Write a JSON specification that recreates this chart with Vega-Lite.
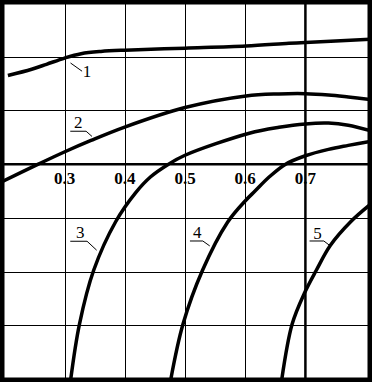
{
  "$schema": "https://vega.github.io/schema/vega-lite/v6.json",
  "width": 372,
  "height": 382,
  "padding": 0,
  "autosize": {"type": "fit", "contains": "padding"},
  "background": "white",
  "config": {
    "view": {"stroke": "black", "strokeWidth": 5},
    "axis": {"grid": true, "gridColor": "black", "gridOpacity": 1, "gridWidth": 1, "labels": false, "ticks": false, "domain": false, "title": null}
  },
  "datasets": {
    "curves": [
      {"c": 1, "x": 0.2058, "y": 1.650}, {"c": 1, "x": 0.2453, "y": 1.768}, {"c": 1, "x": 0.2699, "y": 1.860},
      {"c": 1, "x": 0.3, "y": 1.976}, {"c": 1, "x": 0.3274, "y": 2.057}, {"c": 1, "x": 0.3603, "y": 2.099},
      {"c": 1, "x": 0.4, "y": 2.123}, {"c": 1, "x": 0.5, "y": 2.160}, {"c": 1, "x": 0.6014, "y": 2.200},
      {"c": 1, "x": 0.6726, "y": 2.250}, {"c": 1, "x": 0.7, "y": 2.265}, {"c": 1, "x": 0.8073, "y": 2.326},
      {"c": 2, "x": 0.196, "y": -0.326}, {"c": 2, "x": 0.2563, "y": 0.0}, {"c": 2, "x": 0.2995, "y": 0.2265},
      {"c": 2, "x": 0.3439, "y": 0.442}, {"c": 2, "x": 0.3998, "y": 0.691}, {"c": 2, "x": 0.5, "y": 1.055},
      {"c": 2, "x": 0.6014, "y": 1.271}, {"c": 2, "x": 0.6561, "y": 1.308}, {"c": 2, "x": 0.7, "y": 1.313},
      {"c": 2, "x": 0.7383, "y": 1.289}, {"c": 2, "x": 0.7712, "y": 1.252}, {"c": 2, "x": 0.8073, "y": 1.206},
      {"c": 3, "x": 0.3100, "y": -4.02}, {"c": 3, "x": 0.3247, "y": -2.978}, {"c": 3, "x": 0.3483, "y": -1.976},
      {"c": 3, "x": 0.3850, "y": -1.068}, {"c": 3, "x": 0.4178, "y": -0.534},
      {"c": 3, "x": 0.4425, "y": -0.239}, {"c": 3, "x": 0.4726, "y": 0.0}, {"c": 3, "x": 0.5, "y": 0.166},
      {"c": 3, "x": 0.6068, "y": 0.576}, {"c": 3, "x": 0.6561, "y": 0.687}, {"c": 3, "x": 0.7, "y": 0.750},
      {"c": 3, "x": 0.7383, "y": 0.765}, {"c": 3, "x": 0.7712, "y": 0.725}, {"c": 3, "x": 0.8073, "y": 0.626},
      {"c": 4, "x": 0.4762, "y": -4.02}, {"c": 4, "x": 0.4967, "y": -2.978}, {"c": 4, "x": 0.5291, "y": -1.976},
      {"c": 4, "x": 0.5707, "y": -1.081}, {"c": 4, "x": 0.6003, "y": -0.681},
      {"c": 4, "x": 0.6167, "y": -0.497}, {"c": 4, "x": 0.6397, "y": -0.240}, {"c": 4, "x": 0.6671, "y": 0.0},
      {"c": 4, "x": 0.7, "y": 0.157}, {"c": 4, "x": 0.7383, "y": 0.276}, {"c": 4, "x": 0.7712, "y": 0.350},
      {"c": 4, "x": 0.8073, "y": 0.424},
      {"c": 5, "x": 0.6606, "y": -4.02}, {"c": 5, "x": 0.6780, "y": -2.978}, {"c": 5, "x": 0.6985, "y": -2.400},
      {"c": 5, "x": 0.7181, "y": -1.976}, {"c": 5, "x": 0.7416, "y": -1.510}, {"c": 5, "x": 0.7756, "y": -1.068},
      {"c": 5, "x": 0.8073, "y": -0.755}
    ],
    "ticks": [
      {"v": 0.3, "lab": "0.3"}, {"v": 0.4, "lab": "0.4"}, {"v": 0.5, "lab": "0.5"}, {"v": 0.6, "lab": "0.6"}, {"v": 0.7, "lab": "0.7"}
    ],
    "labels": [
      {"t": "1", "x": 0.3373, "y": 1.722},
      {"t": "2", "x": 0.3228, "y": 0.764},
      {"t": "3", "x": 0.3258, "y": -1.280},
      {"t": "4", "x": 0.5205, "y": -1.289},
      {"t": "5", "x": 0.7202, "y": -1.298}
    ],
    "leaders": [
      {"x1": 0.3098, "y1": 1.884, "x2": 0.3290, "y2": 1.731},
      {"x1": 0.3094, "y1": 0.613, "x2": 0.3357, "y2": 0.613},
      {"x1": 0.3357, "y1": 0.613, "x2": 0.3455, "y2": 0.516},
      {"x1": 0.3094, "y1": -1.436, "x2": 0.3373, "y2": -1.436},
      {"x1": 0.3373, "y1": -1.436, "x2": 0.3532, "y2": -1.602},
      {"x1": 0.5082, "y1": -1.431, "x2": 0.5296, "y2": -1.431},
      {"x1": 0.5296, "y1": -1.431, "x2": 0.5411, "y2": -1.523},
      {"x1": 0.7069, "y1": -1.431, "x2": 0.7306, "y2": -1.431},
      {"x1": 0.7306, "y1": -1.431, "x2": 0.7399, "y2": -1.510}
    ],
    "vrule": [{"x": 0.7}],
    "hrule": [{"y": 0}]
  },
  "layer": [
    {
      "data": {"name": "curves"},
      "mark": {"type": "line", "color": "black", "strokeWidth": 3.5, "interpolate": "catmull-rom", "clip": true},
      "encoding": {
        "x": {"field": "x", "type": "quantitative", "scale": {"domain": [0.196, 0.8073], "nice": false, "zero": false}, "axis": {"values": [0.3, 0.4, 0.5, 0.6, 0.7]}},
        "y": {"field": "y", "type": "quantitative", "scale": {"domain": [-4.02, 3.02], "nice": false, "zero": false}, "axis": {"values": [-3, -2, -1, 1, 2]}},
        "detail": {"field": "c", "type": "nominal"}
      }
    },
    {
      "data": {"name": "vrule"},
      "mark": {"type": "rule", "color": "black", "strokeWidth": 2.5},
      "encoding": {"x": {"field": "x", "type": "quantitative"}}
    },
    {
      "data": {"name": "hrule"},
      "mark": {"type": "rule", "color": "black", "strokeWidth": 2.5},
      "encoding": {"y": {"field": "y", "type": "quantitative"}}
    },
    {
      "data": {"name": "leaders"},
      "mark": {"type": "rule", "color": "black", "strokeWidth": 1},
      "encoding": {
        "x": {"field": "x1", "type": "quantitative"},
        "y": {"field": "y1", "type": "quantitative"},
        "x2": {"field": "x2"},
        "y2": {"field": "y2"}
      }
    },
    {
      "data": {"name": "ticks"},
      "mark": {"type": "text", "font": "Liberation Serif", "fontWeight": "bold", "fontSize": 17, "align": "center", "baseline": "middle", "color": "black", "y": 177},
      "encoding": {
        "x": {"field": "v", "type": "quantitative"},
        "text": {"field": "lab"}
      }
    },
    {
      "data": {"name": "labels"},
      "mark": {"type": "text", "font": "Liberation Serif", "fontSize": 17, "align": "center", "baseline": "middle", "color": "black"},
      "encoding": {
        "x": {"field": "x", "type": "quantitative"},
        "y": {"field": "y", "type": "quantitative"},
        "text": {"field": "t"}
      }
    }
  ]
}
